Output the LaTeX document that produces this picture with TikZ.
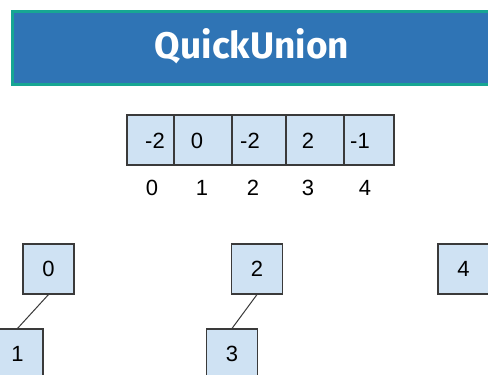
\documentclass[tikz,border=0pt]{standalone}
\usepackage{fontspec}
\setmainfont{Liberation Sans}
\newfontfamily\titlefont{Fira Sans}
\definecolor{cellfill}{HTML}{CFE2F3}
\definecolor{celldraw}{HTML}{3A3A3A}
\definecolor{barfill}{HTML}{2F74B5}
\definecolor{bardraw}{HTML}{17A693}
\begin{document}
\begin{tikzpicture}[x=1pt,y=-1pt,
  cell/.style={draw=celldraw,fill=cellfill,line width=1.1pt},
  box/.style={draw=celldraw,fill=cellfill,line width=1.1pt,minimum width=51pt,minimum height=50pt,inner sep=0pt,font=\fontsize{22}{26}\selectfont},
  val/.style={font=\fontsize{22}{26}\selectfont,inner sep=0pt},
  link/.style={draw=celldraw,line width=1pt}]
\useasboundingbox (0,0) rectangle (488,375);
\clip (0,0) rectangle (488,375);
\fill[white] (0,0) rectangle (488,375);
% title bar
\node[draw=bardraw,fill=barfill,line width=3pt,minimum width=495pt,minimum height=73pt,anchor=north west,inner sep=0pt] (bar) at (11,9.5) {};
\node[text=white,font=\titlefont\bfseries\fontsize{37}{42}\selectfont,inner sep=0pt] (title) at (252,46) {QuickUnion};
% array
\draw[cell] (127,115) rectangle (394,165);
\foreach \x in {174,232,286,344} \draw[celldraw,line width=1.1pt] (\x,115) -- (\x,165);
\node[val] (v0) at (155,141) {-2};
\node[val] (v1) at (197,141) {0};
\node[val] (v2) at (250,141) {-2};
\node[val] (v3) at (308,141) {2};
\node[val] (v4) at (360,141) {-1};
\node[val] (i0) at (152,188) {0};
\node[val] (i1) at (202,188) {1};
\node[val] (i2) at (253,188) {2};
\node[val] (i3) at (308,188) {3};
\node[val] (i4) at (365,188) {4};
% trees
\node[box] (n0) at (48.5,269) {0};
\node[box] (n1) at (17.5,354) {1};
\node[box] (n2) at (257,269) {2};
\node[box] (n3) at (232,354) {3};
\node[box] (n4) at (463.5,269) {4};
\draw[link] (n0.south) -- (n1.north);
\draw[link] (n2.south) -- (n3.north);
\end{tikzpicture}
\end{document}
